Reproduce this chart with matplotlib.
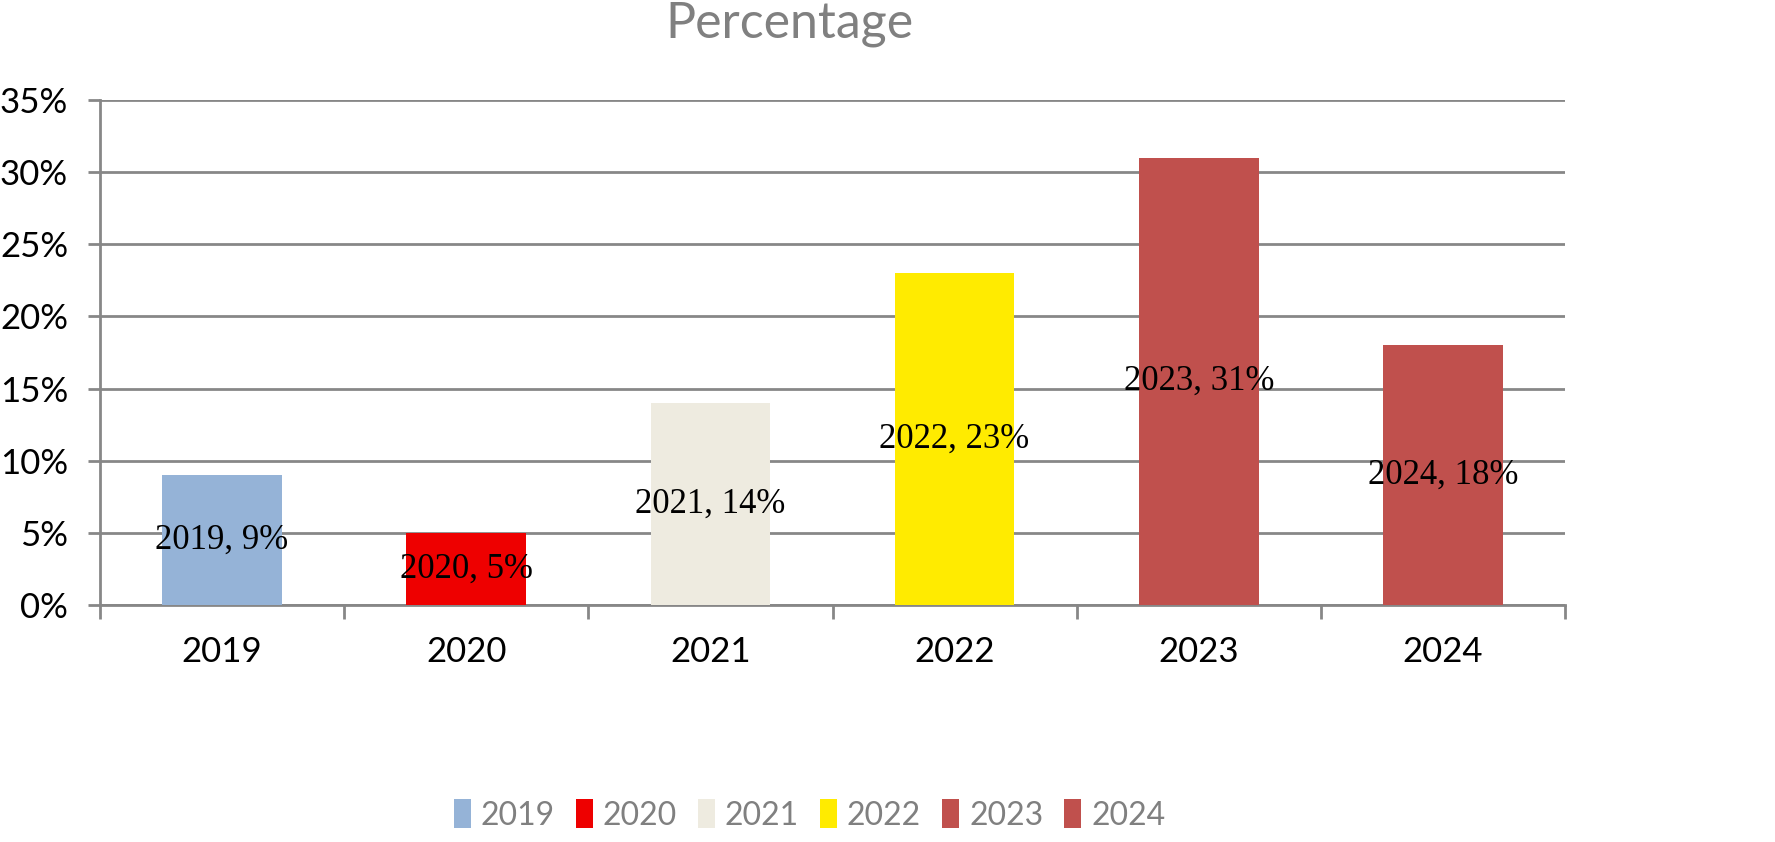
import matplotlib
matplotlib.use('Agg')
import matplotlib.pyplot as plt
from matplotlib.patches import Patch
from matplotlib.ticker import MultipleLocator, FuncFormatter
from matplotlib import font_manager
import numpy as np

# Data
years = ['2019', '2020', '2021', '2022', '2023', '2024']
percentages = [9, 5, 14, 23, 31, 18]
bar_colors = ['#95B3D7', '#EE0000', '#EEEBE0', '#FFEB00', '#C0504D', '#C0504D']

grid_gray = '#878787'
text_gray = '#808080'

# pick a narrow font for the legend if one is installed
names = {f.name for f in font_manager.fontManager.ttflist}
narrow = [n for n in ['Liberation Sans Narrow', 'DejaVu Sans Condensed'] if n in names]
legend_family = narrow + ['Lato']

fig = plt.figure(figsize=(17.75, 8.42), dpi=100)
ax = fig.add_axes([100 / 1775, 1 - 605 / 842, 1465 / 1775, 505 / 842])

x = np.arange(len(years))
bars = ax.bar(x, percentages, width=0.49, color=bar_colors, zorder=3)

# Data labels centred in each bar
for xi, yr, val in zip(x, years, percentages):
    ax.text(xi, val / 2, f'{yr}, {val}%', ha='center', va='center',
            fontsize=25, family='Liberation Serif', color='black', zorder=4)

ax.set_xlim(-0.5, len(years) - 0.5)
ax.set_ylim(0, 35)
ax.yaxis.set_major_locator(MultipleLocator(5))
ax.yaxis.set_major_formatter(FuncFormatter(lambda v, p: f'{int(v)}%'))
ax.yaxis.grid(True, color=grid_gray, linewidth=2, zorder=0)

ax.set_xticks(x)
ax.set_xticklabels(years)
ax.set_xticks(np.arange(-0.5, len(years)), minor=True)
ax.tick_params(axis='x', which='major', length=0, pad=22, labelsize=25)
ax.tick_params(axis='x', which='minor', length=10, width=2, color=grid_gray)
ax.tick_params(axis='y', length=9, width=2, color=grid_gray, labelsize=25, pad=14)
for lbl in ax.get_xticklabels() + ax.get_yticklabels():
    lbl.set_family('Lato')

for side in ['top', 'right']:
    ax.spines[side].set_visible(False)
for side in ['left', 'bottom']:
    ax.spines[side].set_color(grid_gray)
    ax.spines[side].set_linewidth(2)

fig.text(0.445, 0.972, 'Percentage', ha='center', va='center',
         fontsize=36, color=text_gray, family='Lato')

handles = [Patch(facecolor=c, edgecolor='none') for c in bar_colors]
leg = fig.legend(handles, years, loc='center', bbox_to_anchor=(0.456, 0.032),
                 ncol=len(years), frameon=False, handlelength=0.55,
                 handleheight=1.0, handletextpad=0.3, columnspacing=0.65,
                 prop={'family': legend_family, 'size': 23, 'stretch': 'condensed'})
for t in leg.get_texts():
    t.set_color(text_gray)

fig.savefig('out.png', dpi=100)
